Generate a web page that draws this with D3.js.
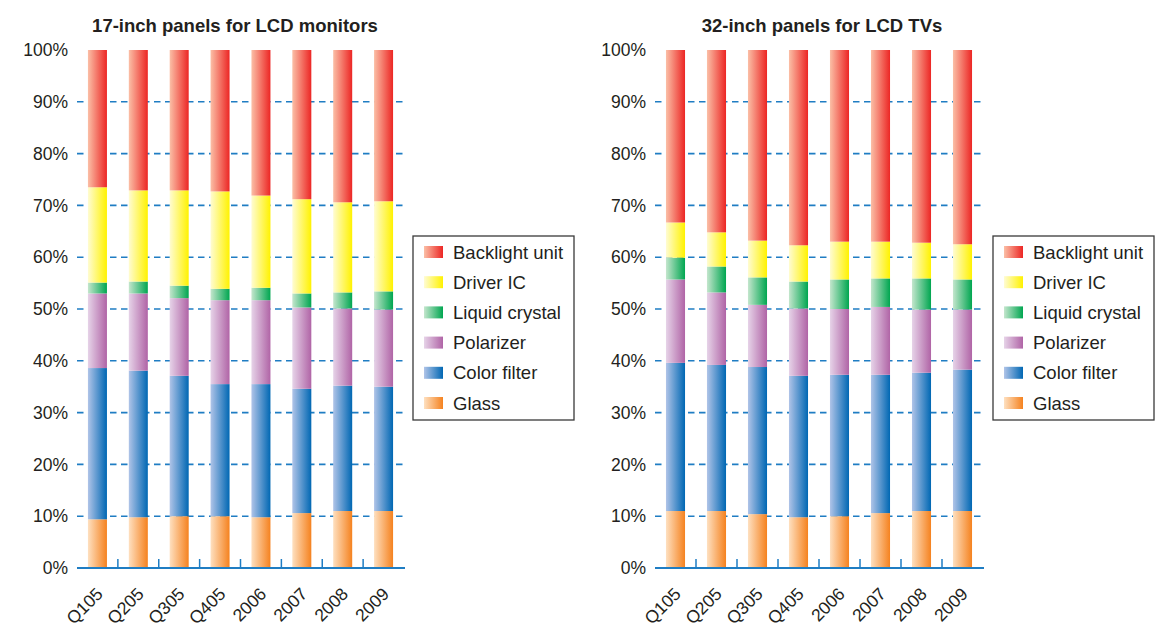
<!DOCTYPE html>
<html>
<head>
<meta charset="utf-8">
<script src="https://cdn.jsdelivr.net/npm/d3@7"></script>
<style>
  html, body { margin: 0; padding: 0; background: #ffffff; }
  svg { display: block; }
  text { font-family: "Liberation Sans", Arial, Helvetica, sans-serif; fill: #231f20; }
</style>
</head>
<body>
<svg id="chart" width="1166" height="632"></svg>
<script>
// ---------- DATA ----------
const categories = ["Q105", "Q205", "Q305", "Q405", "2006", "2007", "2008", "2009"];
const seriesNames = ["Glass", "Color filter", "Polarizer", "Liquid crystal", "Driver IC", "Backlight unit"];
const yTickValues = [0, 10, 20, 30, 40, 50, 60, 70, 80, 90, 100];
const gridValues = [10, 20, 30, 40, 50, 60, 70, 80, 90];

// 17-inch panels for LCD monitors (% share)
const monGlass       = [9.4, 9.8, 10.0, 10.0, 9.8, 10.6, 11.0, 11.0];
const monColorFilter = [29.2, 28.3, 27.1, 25.5, 25.7, 24.0, 24.2, 24.0];
const monPolarizer   = [14.4, 14.9, 15.0, 16.2, 16.2, 15.7, 14.9, 14.9];
const monLiquid      = [2.1, 2.3, 2.4, 2.2, 2.4, 2.7, 3.1, 3.5];
const monDriverIC    = [18.4, 17.6, 18.4, 18.8, 17.8, 18.2, 17.4, 17.4];
const monBacklight   = [26.5, 27.1, 27.1, 27.3, 28.1, 28.8, 29.4, 29.2];

// 32-inch panels for LCD TVs (% share)
const tvGlass       = [11.0, 11.0, 10.4, 9.8, 10.0, 10.6, 11.0, 11.0];
const tvColorFilter = [28.6, 28.2, 28.4, 27.3, 27.3, 26.7, 26.7, 27.3];
const tvPolarizer   = [16.1, 14.0, 12.0, 13.0, 12.7, 13.1, 12.2, 11.6];
const tvLiquid      = [4.2, 5.0, 5.3, 5.2, 5.7, 5.5, 6.0, 5.8];
const tvDriverIC    = [6.8, 6.6, 7.1, 7.0, 7.3, 7.1, 6.9, 6.8];
const tvBacklight   = [33.3, 35.2, 36.8, 37.7, 37.0, 37.0, 37.2, 37.5];

// ---------- STYLE ----------
const gradientStops = {
  "Glass":          ["#fee0c0", "#f5821f"],
  "Color filter":   ["#b0c4e8", "#0067b3"],
  "Polarizer":      ["#e6d3e8", "#b064a6"],
  "Liquid crystal": ["#c4e6cd", "#00a650"],
  "Driver IC":      ["#fffcd2", "#fff200"],
  "Backlight unit": ["#fbbfa6", "#ec2624"]
};
const gridColor = "#1f7dc3";
const fontFamily = "'Liberation Sans', Arial, Helvetica, sans-serif";

const svg = d3.select("#chart");
const defs = svg.append("defs");
seriesNames.forEach((name, i) => {
  const g = defs.append("linearGradient")
    .attr("id", "grad" + i)
    .attr("x1", 0).attr("y1", 0).attr("x2", 1).attr("y2", 0);
  g.append("stop").attr("offset", "0%").attr("stop-color", gradientStops[name][0]);
  g.append("stop").attr("offset", "100%").attr("stop-color", gradientStops[name][1]);
});

function drawPanel(opts) {
  const { title, titleX, x0, x1, legendX, seriesData } = opts;
  const yTop = 50, yBottom = 568;

  const x = d3.scaleBand().domain(categories).range([x0, x1])
    .paddingInner(0.535).paddingOuter(0.2675);
  const y = d3.scaleLinear().domain([0, 100]).range([yBottom, yTop]);

  const g = svg.append("g");

  // title
  g.append("text")
    .attr("x", titleX).attr("y", 32)
    .attr("text-anchor", "middle")
    .style("font-size", "18.5px").style("font-weight", "bold")
    .text(title);

  // grid lines
  g.append("g").selectAll("line").data(gridValues).join("line")
    .attr("x1", x0).attr("x2", x1)
    .attr("y1", d => y(d)).attr("y2", d => y(d))
    .attr("stroke", gridColor).attr("stroke-width", 1.6)
    .attr("stroke-dasharray", "6.5,4.5");

  // y axis labels
  const yAxis = d3.axisLeft(y).tickValues(yTickValues)
    .tickFormat(d => d + "%").tickSize(0).tickPadding(9);
  const ya = g.append("g").attr("transform", `translate(${x0},0)`).call(yAxis);
  ya.select(".domain").remove();
  ya.selectAll("text")
    .style("font-size", "17.5px").style("font-family", fontFamily)
    .attr("fill", "#231f20");

  // stacked bars
  const rows = categories.map((c, i) => {
    const r = { cat: c };
    seriesNames.forEach((s, k) => { r[s] = seriesData[k][i]; });
    return r;
  });
  const stack = d3.stack().keys(seriesNames)(rows);
  stack.forEach((layer, k) => {
    g.append("g").selectAll("rect").data(layer).join("rect")
      .attr("x", d => x(d.data.cat))
      .attr("width", x.bandwidth())
      .attr("y", d => y(d[1]))
      .attr("height", d => y(d[0]) - y(d[1]))
      .attr("fill", `url(#grad${k})`);
  });

  // x axis baseline + ticks between bands
  g.append("line")
    .attr("x1", x0).attr("x2", x1 + 1)
    .attr("y1", yBottom).attr("y2", yBottom)
    .attr("stroke", gridColor).attr("stroke-width", 2);
  const boundaries = categories.slice(0, -1);
  g.append("g").selectAll("line").data(boundaries).join("line")
    .attr("x1", d => x(d) + x.bandwidth() / 2 + x.step() / 2)
    .attr("x2", d => x(d) + x.bandwidth() / 2 + x.step() / 2)
    .attr("y1", yBottom).attr("y2", yBottom - 9)
    .attr("stroke", gridColor).attr("stroke-width", 1.5);

  // x labels
  g.append("g").selectAll("text").data(categories).join("text")
    .attr("text-anchor", "end")
    .attr("transform", d => `translate(${x(d) + x.bandwidth() / 2 + 6.5},${yBottom + 27}) rotate(-45)`)
    .style("font-size", "17.5px")
    .text(d => d);

  // legend
  const lg = g.append("g");
  lg.append("rect")
    .attr("x", legendX).attr("y", 236)
    .attr("width", 161).attr("height", 184)
    .attr("fill", "#ffffff").attr("stroke", "#3a3a3a").attr("stroke-width", 1.3);
  const legendOrder = seriesNames.slice().reverse();
  legendOrder.forEach((name, i) => {
    const k = seriesNames.indexOf(name);
    const cy = 252 + i * 30.2;
    lg.append("rect")
      .attr("x", legendX + 11).attr("y", cy - 6)
      .attr("width", 19).attr("height", 12)
      .attr("fill", `url(#grad${k})`);
    lg.append("text")
      .attr("x", legendX + 40).attr("y", cy)
      .attr("dy", "0.36em")
      .style("font-size", "18.5px")
      .text(name);
  });
}

drawPanel({
  title: "17-inch panels for LCD monitors",
  titleX: 235,
  x0: 77, x1: 404,
  legendX: 413,
  seriesData: [monGlass, monColorFilter, monPolarizer, monLiquid, monDriverIC, monBacklight]
});

drawPanel({
  title: "32-inch panels for LCD TVs",
  titleX: 822,
  x0: 655, x1: 983,
  legendX: 993,
  seriesData: [tvGlass, tvColorFilter, tvPolarizer, tvLiquid, tvDriverIC, tvBacklight]
});
</script>
</body>
</html>
